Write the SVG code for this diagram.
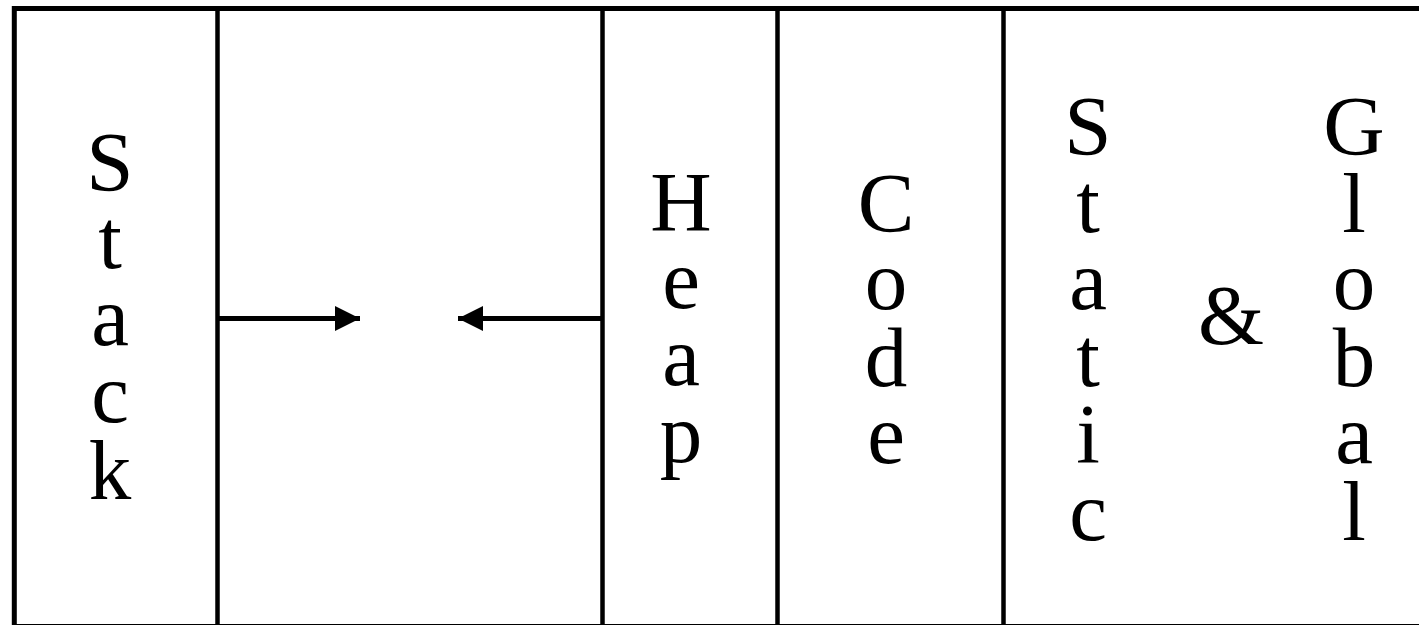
<svg xmlns="http://www.w3.org/2000/svg" width="1419" height="625" viewBox="0 0 1419 625">
  <style>
    .frame { fill: none; stroke: #000; stroke-width: 5; }
    .divider { stroke: #000; stroke-width: 4.5; }
    .flow { stroke: #000; stroke-width: 5; fill: none; }
    .label { font-family: "Liberation Serif", "Times New Roman", serif; font-size: 85px; fill: #000; text-anchor: middle; }
  </style>
  <defs>
    <marker id="head" markerUnits="userSpaceOnUse" markerWidth="26" markerHeight="26" refX="25" refY="12.5" orient="auto">
      <path d="M0,0 L25,12.5 L0,25 Z" fill="#000"/>
    </marker>
  </defs>
  <rect width="1419" height="625" fill="#fff"/>

  <!-- outer memory block (runs past the right and bottom edges) -->
  <rect class="frame" x="14.3" y="8.5" width="1420" height="618"/>

  <!-- segment boundaries -->
  <g id="dividers">
    <line class="divider" x1="217.5" y1="8" x2="217.5" y2="630"/>
    <line class="divider" x1="602.5" y1="8" x2="602.5" y2="630"/>
    <line class="divider" x1="777.5" y1="8" x2="777.5" y2="630"/>
    <line class="divider" x1="1003.5" y1="8" x2="1003.5" y2="630"/>
  </g>

  <g id="stack">
    <text class="label"><tspan x="110" y="191">S</tspan><tspan x="110" dy="77">t</tspan><tspan x="110" dy="77">a</tspan><tspan x="110" dy="77">c</tspan><tspan x="110" dy="77">k</tspan></text>
  </g>

  <g id="heap">
    <text class="label"><tspan x="681" y="231">H</tspan><tspan x="681" dy="77">e</tspan><tspan x="681" dy="77">a</tspan><tspan x="681" dy="77">p</tspan></text>
  </g>

  <g id="code">
    <text class="label"><tspan x="886" y="232">C</tspan><tspan x="886" dy="77">o</tspan><tspan x="886" dy="77">d</tspan><tspan x="886" dy="77">e</tspan></text>
  </g>

  <g id="static-global">
    <text class="label"><tspan x="1088" y="155">S</tspan><tspan x="1088" dy="77">t</tspan><tspan x="1088" dy="77">a</tspan><tspan x="1088" dy="77">t</tspan><tspan x="1088" dy="77">i</tspan><tspan x="1088" dy="77">c</tspan></text>
    <text class="label" x="1231" y="344">&amp;</text>
    <text class="label"><tspan x="1354" y="155">G</tspan><tspan x="1354" dy="77">l</tspan><tspan x="1354" dy="77">o</tspan><tspan x="1354" dy="77">b</tspan><tspan x="1354" dy="77">a</tspan><tspan x="1354" dy="77">l</tspan></text>
  </g>

  <!-- growth directions of stack and heap -->
  <g id="connectors">
    <line class="flow" x1="217.5" y1="318.5" x2="360" y2="318.5" marker-end="url(#head)"/>
    <line class="flow" x1="602.5" y1="318.5" x2="458" y2="318.5" marker-end="url(#head)"/>
  </g>
</svg>
